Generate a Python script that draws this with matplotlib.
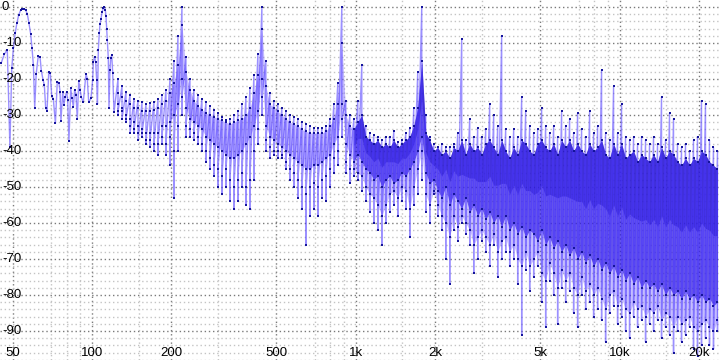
import numpy as np
import matplotlib
matplotlib.use("Agg")
import matplotlib.pyplot as plt

# ---------------- data ----------------
# low-frequency bins (Hz, dB), read point by point
low_freq = [45.2, 46.5, 47.7, 48.8, 49.6, 50.3, 51.1, 51.9, 52.7, 53.6, 54.4, 55.2,
            56.0, 56.8, 57.6, 58.5, 59.2, 59.9, 60.6, 61.4, 62.5, 63.5, 64.2, 65.2,
            65.9, 66.7, 67.5, 68.5, 69.4, 70.3, 71.3, 72.6, 73.8, 74.9, 75.6, 76.2,
            77.4, 78.2, 79.1, 80.1, 80.8, 81.7, 83.0, 83.9, 84.9, 85.9, 86.9, 87.9,
            89.0, 90.0, 91.0, 92.6, 94.8, 95.9, 97.1, 99.0, 100.5, 101.1, 102.3, 103.2,
            104.1, 104.8, 105.6, 106.5, 107.1, 108.1, 109.3, 110.3, 111.2, 112.2, 112.9,
            113.6, 114.2, 115.2, 115.9, 116.9, 117.6, 118.7, 119.7, 121.1]
low_db = [-15.6, -13.1, -11.9, -38.8, -17.0, -11.5, -7.3, -4.4, -2.2, -0.9, -0.5, -0.5,
          -0.9, -1.9, -4.4, -7.5, -11.5, -16.1, -28.0, -18.6, -13.6, -14.0, -17.7, -20.3,
          -21.7, -28.1, -28.8, -18.0, -18.4, -24.6, -25.6, -32.3, -20.7, -21.2, -23.5, -31.6,
          -23.6, -27.2, -24.9, -23.5, -25.8, -37.2, -22.6, -25.3, -27.7, -23.0, -24.4, -31.2,
          -20.5, -23.0, -25.0, -26.5, -18.5, -20.0, -26.5, -25.4, -20.3, -15.2, -13.8, -15.4,
          -20.3, -27.0, -11.9, -7.3, -4.8, -3.2, -1.3, -0.3, -0.1, -0.8, -2.5,
          -6.0, -9.1, -14.2, -28.1, -17.4, -14.2, -13.4, -18.2, -29.3]

# denser part: one column every few pixels, 125 Hz .. 23.5 kHz
col_freq = np.geomspace(125.4, 23500.0, 151)
col_top = [-20, -22, -23.5, -24.5, -25.5, -26, -26.5, -27, -26.7, -26.3, -25.5, -24.5, -23, -20, -15, -8,
           0, -13.8, -20, -23, -24.5, -25.5, -26.5, -27.5, -28.5, -29.5, -30.5, -31.3, -31, -30, -29, -27,
           -25, -22.5, -19, -13, 0, -15, -24, -26, -27, -28, -29, -30, -30.5, -31, -32, -32.5,
           -33, -33.5, -33.5, -33.5, -33, -31, -27, -21, 0, -26, -30, -31, -26, -16, -33, -35,
           -35.5, -36, -37, -36, -36, -34.5, -37.5, -37, -35, -33.5, -28, -18, 0, -30, -36, -38,
           -39, -38, -39, -39, -38, -35, -9, -37, -31, -36, -33.5, -36, -34, -27, -30, -33,
           -8, -34, -36, -34, -36, -25, -29, -33, -35, -34, -28, -33, -35, -33, -36, -29,
           -33, -31, -35, -29.5, -34, -36, -29, -35, -33, -17.5, -35, -37, -22, -35, -27, -36,
           -37, -36, -38, -36, -37, -38, -36, -38, -25, -37, -29.5, -31, -38, -39, -38, -40,
           -37, -36, -26, -27, -37, -39, -40]
col_floor = [-30, -29, -32, -33, -35, -35, -36, -38, -39, -40, -41, -38, -41, -44, -53, -40,
             -30, -36, -36, -37, -38, -40, -43, -45, -47, -50, -52, -50, -54, -56, -54, -50,
             -55, -56, -48, -38, -30, -40, -42, -41, -42, -42, -45, -48, -50, -53, -56, -66,
             -58, -56, -58, -53, -54, -50, -46, -44, -36, -46, -49, -47, -48, -51, -54, -57,
             -60, -62, -66, -60, -57, -55, -58, -54, -56, -64, -55, -52, -48, -57, -60, -52,
             -58, -62, -70, -77, -62, -65, -60, -63, -66, -74, -70, -65, -68, -72, -66, -75,
             -70, -68, -72, -70, -77, -91, -73, -79, -75, -72, -82, -89, -76, -80, -88, -78,
             -82, -79, -85, -89, -80, -84, -82, -86, -84, -87, -93, -85, -83, -88, -86, -90,
             -92, -86, -89, -87, -93, -88, -90, -87, -92, -89, -91, -96, -90, -93, -91, -89,
             -95, -97, -94, -92, -94, -95, -90]
col_low2 = [-29, -31, -31, -35, -34, -37, -35, -37, -37, -38, -38, -36, -38, -36, -40, -33, -25,
            -33, -34, -35, -36, -38, -40, -42, -44, -45, -47, -45, -48, -50, -48, -46, -50, -48, -40, -34, -25,
            -37, -39, -40, -40, -41, -43, -45, -46, -48, -50, -52, -50, -49, -50, -48, -47, -45, -42, -40, -31,
            -43, -45, -45, -46, -47, -50, -52, -53, -55, -58, -55, -52, -51, -53, -50, -51, -56, -50, -45, -40,
            -52, -55, -51, -55, -58, -60, -64, -58, -61, -58, -60, -62, -66, -64, -62, -64, -66, -63, -68, -65,
            -64, -68, -66, -70, -72, -68, -72, -70, -68, -74, -76, -71, -74, -78, -73, -76, -74, -78, -80, -75,
            -79, -77, -80, -78, -81, -84, -80, -79, -83, -81, -84, -85, -82, -84, -83, -86, -84, -85, -83, -87,
            -85, -86, -89, -86, -88, -87, -86, -89, -90, -88, -87, -89, -90, -87]
col_dense_hi = [-24, -25, -26, -27, -28, -28, -29, -29, -29, -28.5, -28, -27, -26, -24, -21, -16,
                -5, -18, -23, -26, -27.5, -28.5, -29.5, -30, -30.5, -31, -31.5, -32, -32.5, -32, -31.5, -31,
                -30, -28, -24, -19, -6, -22, -27, -28, -29, -30, -31, -32, -32.5, -33, -34, -34.5,
                -35, -35, -35, -35, -34.5, -33, -31, -27, -10,
                -30, -33, -34, -32, -30, -36, -37, -38, -37, -39, -38, -39, -37, -39, -38, -37, -36, -33, -28, -15,
                -35, -37, -40, -39, -41, -40, -42, -39, -40, -37, -41, -38, -40, -39, -41, -38, -37, -39, -41, -37,
                -40, -42, -39, -41, -37, -38, -40, -41, -38, -37, -39, -40, -38, -41, -37, -39, -37, -40, -38, -40,
                -41, -38, -40, -39, -37, -41, -42, -38, -41, -38, -42, -41, -40, -43, -41, -42, -43, -41, -43, -39,
                -42, -40, -41, -43, -44, -42, -44, -42, -43, -40, -41, -43, -44, -45]
col_dense_lo = [-27, -28, -30, -31, -32, -33, -34, -35, -35, -35, -35, -33, -33, -32, -30, -27,
                -20, -28, -31, -32, -33, -34, -36, -37, -38, -39, -40, -41, -42, -42, -41, -40,
                -38, -36, -33, -29, -20, -33, -36, -37, -38, -39, -40, -41, -42, -43, -44, -45,
                -45, -44, -44, -43, -42, -41, -38, -36, -27,
                -38, -41, -43, -41, -43, -45, -46, -48, -47, -50, -48, -47, -49, -48, -46, -47, -45, -43, -40, -36,
                -46, -49, -48, -51, -53, -50, -55, -52, -54, -56, -53, -57, -55, -58, -56, -59, -57, -60, -58, -61,
                -58, -62, -60, -63, -61, -64, -62, -63, -65, -62, -66, -64, -67, -65, -68, -66, -69, -67, -70, -68,
                -71, -69, -72, -70, -73, -71, -74, -72, -75, -73, -76, -74, -77, -75, -78, -76, -78, -77, -79, -77,
                -80, -78, -80, -79, -81, -79, -81, -80, -82, -80, -82, -81, -83, -82]

y_ticks = [0, -10, -20, -30, -40, -50, -60, -70, -80, -90]
x_ticks = [50, 100, 200, 500, 1000, 2000, 5000, 10000, 20000]
x_tick_labels = ["50", "100", "200", "500", "1k", "2k", "5k", "10k", "20k"]
x_minor = [70, 80, 90, 150, 300, 700, 800, 900, 1500, 3000, 7000, 8000, 9000, 15000]

# ---------------- figure ----------------
plt.rcParams['font.family'] = ['Liberation Sans', 'DejaVu Sans']
fig = plt.figure(figsize=(7.2, 3.6), dpi=100)
ax = fig.add_axes([0, 0, 1, 1])
ax.set_xscale('log')
ax.set_xlim(44.76, 24020)
ax.set_ylim(-98.06, 1.94)

# build the series (each column visited top -> dense low -> floor -> dense high -> second low)
zig_f = np.repeat(col_freq, 5)
zig_db = np.column_stack([col_top, col_dense_lo, col_floor, col_dense_hi, col_low2]).ravel()
f_all = np.concatenate([low_freq, zig_f])
db_all = np.concatenate([low_db, zig_db])

hi = np.array(col_dense_hi, dtype=float)
lo = np.array(col_dense_lo, dtype=float)
low2 = np.array(col_low2, dtype=float)
mid = (hi + lo) / 2
dense = col_freq >= 950
sparse = (col_freq >= 195) & (col_freq <= 1000)
ax.fill_between(col_freq, hi, lo, where=sparse, color='#7a66ff', alpha=0.45, lw=0, zorder=2)
ax.fill_between(col_freq, lo, low2, where=dense, color='#5a44ff', alpha=0.35, lw=0, zorder=2)
ax.fill_between(col_freq, hi, lo, where=dense, color='#2a14e4', alpha=0.72, lw=0, zorder=2)
ax.fill_between(col_freq, hi, mid, where=dense, color='#1c0cc4', alpha=0.5, lw=0, zorder=2)
ax.plot(f_all, db_all, color='#4a36ff', lw=1.0, alpha=0.55, zorder=3)
ax.plot(f_all, db_all, ls='none', marker='s', ms=2.1, mew=0, color='#14149a', zorder=4)

# grid
ax.set_xticks(x_ticks)
ax.set_xticks(x_minor, minor=True)
ax.set_yticks(y_ticks)
ax.set_yticks(np.arange(-98, 2, 2), minor=True)
ax.grid(which='major', color='#7a7a7a', ls=(0, (1, 2)), lw=1)
ax.grid(which='minor', color='#c4c4c4', ls=(0, (1, 2)), lw=1)
ax.set_axisbelow(True)
ax.tick_params(which='both', length=0, labelbottom=False, labelleft=False)
for s in ax.spines.values():
    s.set_visible(False)

for v in y_ticks:
    ax.text(2 / 720, v, str(v), transform=ax.get_yaxis_transform(), ha='left', va='center',
            fontsize=9.5, color='black', zorder=6)
for v, lab in zip(x_ticks, x_tick_labels):
    ax.text(v, 7.5 / 360, lab, transform=ax.get_xaxis_transform(), ha='center', va='center',
            fontsize=9.5, color='black', zorder=6)

fig.savefig('out.png', dpi=100)
